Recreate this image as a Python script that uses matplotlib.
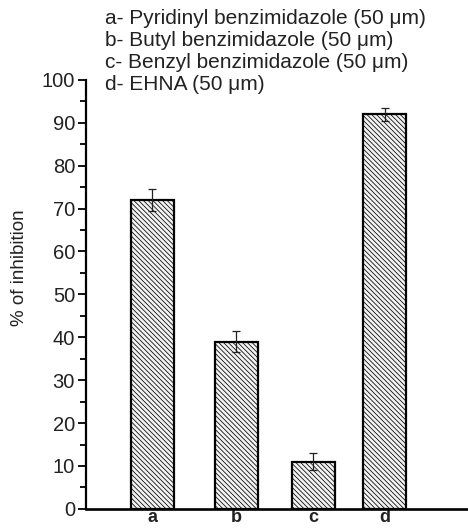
import matplotlib
matplotlib.use("Agg")
import matplotlib.pyplot as plt

# data
categorias = ["a", "b", "c", "d"]
inibicao = [72, 39, 11, 92]
erros = [2.5, 2.5, 2.0, 1.5]
legenda = [
    "a- Pyridinyl benzimidazole (50 \u03bcm)",
    "b- Butyl benzimidazole (50 \u03bcm)",
    "c- Benzyl benzimidazole (50 \u03bcm)",
    "d- EHNA (50 \u03bcm)",
]

# bar positions (uneven in the original)
posicoes = [1.0, 2.0, 2.92, 3.77]

plt.rcParams["font.family"] = ["Liberation Sans", "DejaVu Sans"]
plt.rcParams["hatch.color"] = "#a8a8a8"
plt.rcParams["hatch.linewidth"] = 0.55

fig = plt.figure(figsize=(4.68, 5.29), dpi=100)
ax = fig.add_axes([0.184, 0.038, 0.816, 0.811])

ax.bar(posicoes, inibicao, width=0.51, color="#f2f2f2", edgecolor="black",
       linewidth=1.6, hatch="\\" * 7, zorder=2)
ax.errorbar(posicoes, inibicao, yerr=erros, fmt="none", ecolor="#222222",
            elinewidth=0.9, capsize=3, capthick=0.9, zorder=3)

ax.set_xlim(0.214, 4.76)
ax.set_ylim(0, 100)
ax.set_yticks(range(0, 101, 10))
ax.set_yticks(range(5, 100, 10), minor=True)
ax.tick_params(axis="y", which="major", length=6, width=1.3, labelsize=14.5,
               direction="out", pad=2, labelcolor="#222222")
ax.tick_params(axis="y", which="minor", length=4, width=1.3, direction="out")
ax.set_xticks(posicoes)
ax.set_xticklabels(categorias, fontsize=13, fontweight="bold", color="#222222")
ax.tick_params(axis="x", length=0, pad=0)

for lado in ["top", "right"]:
    ax.spines[lado].set_visible(False)
ax.spines["left"].set_linewidth(1.6)
ax.spines["bottom"].set_linewidth(1.9)

fig.text(20 / 468, 1 - 268 / 529, "% of inhibition", fontsize=13.5,
         rotation=90, ha="center", va="center", color="#222222")

for i, texto in enumerate(legenda):
    fig.text(105 / 468, 1 - (19 + i * 22) / 529, texto, fontsize=15,
             va="center", ha="left", color="#222222")

fig.savefig("out.png", dpi=100)
